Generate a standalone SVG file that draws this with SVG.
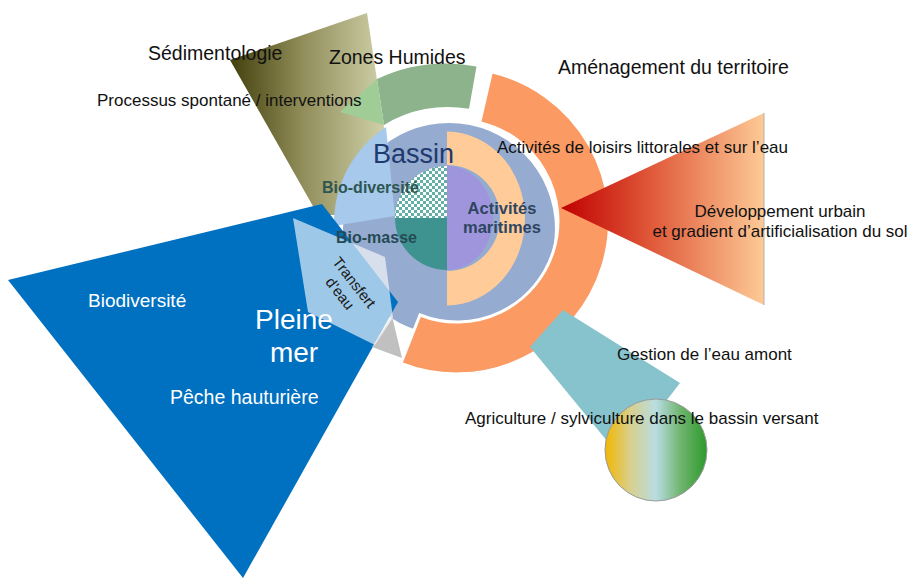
<svg xmlns="http://www.w3.org/2000/svg" width="909" height="579" viewBox="0 0 909 579">
<defs>
<style>
text{font-family:"Liberation Sans",Arial,sans-serif;}
.lbl{font-size:17px;fill:#111;}
.big{font-size:19.5px;fill:#111;}
.wh{fill:#fff;}
.inner{font-weight:bold;font-size:16px;}
</style>
<linearGradient id="olive" gradientUnits="userSpaceOnUse" x1="232" y1="60" x2="385" y2="60">
<stop offset="0" stop-color="#45420f"/>
<stop offset="0.45" stop-color="#8f8c58"/>
<stop offset="1" stop-color="#d0d1aa"/>
</linearGradient>
<linearGradient id="red" gradientUnits="userSpaceOnUse" x1="561" y1="0" x2="764" y2="0">
<stop offset="0" stop-color="#c00000"/>
<stop offset="0.45" stop-color="#e05a3a"/>
<stop offset="1" stop-color="#fdca96"/>
</linearGradient>
<linearGradient id="agri" gradientUnits="userSpaceOnUse" x1="605" y1="0" x2="707" y2="0">
<stop offset="0" stop-color="#f2b600"/>
<stop offset="0.25" stop-color="#d8d08e"/>
<stop offset="0.5" stop-color="#b8dde2"/>
<stop offset="0.75" stop-color="#6db36b"/>
<stop offset="1" stop-color="#2c9a2c"/>
</linearGradient>
<pattern id="check" patternUnits="userSpaceOnUse" width="6" height="6">
<rect width="6" height="6" fill="#ffffff"/>
<rect width="3" height="3" fill="#62b0a6"/>
<rect x="3" y="3" width="3" height="3" fill="#62b0a6"/>
</pattern>
</defs>

<g id="sedimentologie">
<polygon points="230,60 367,13 397,215 318,215" fill="url(#olive)"/>
</g>

<g id="zones-humides">
<path d="M476.5,66.5 A164,164 0 0,0 377,79 L384,125 A121,121 0 0,1 469,108.8 Z" fill="#8db38d"/>
<polygon points="377,79 340,112 384,125" fill="#a0cd96"/>
</g>

<g id="bassin">
<circle cx="449" cy="229" r="106" fill="#95abd0"/>
<path d="M395,216 L386,127 A115,115 0 0,0 334,226 Z" fill="#a6c9ec"/>
<path d="M447,218 L395,218 A52,52 0 0,1 447,166 Z" fill="url(#check)"/>
<path d="M447,218 L447,270 A52,52 0 0,1 395,218 Z" fill="#3e9390"/>
<path d="M447,131.5 A78,87 0 0,1 447,305.5 L447,271 A53,53 0 0,0 447,165 Z" fill="#ffcc99"/>
<path d="M447,166 A46,52 0 0,1 447,270 Z" fill="#9e95dd"/>
</g>

<g id="amenagement">
<path d="M491.4,71.9 A153,153 0 1,1 400.9,363.4 L420,315 A101,101 0 1,0 479.7,122.6 Z" fill="#fb9a62" stroke="#ffffff" stroke-width="3" stroke-linejoin="miter"/>
</g>

<g id="pleine-mer">
<polygon points="8,280 322,204 398,302 243,578" fill="#0070c0"/>
</g>

<g id="transfert">
<polygon points="372,347 392,316 402,358" fill="#c0c0c0"/>
<polygon points="293,218 385,257 393,318 375,345 308,312" fill="#ffffff" fill-opacity="0.62"/>
</g>

<g id="developpement">
<polygon points="561,208 764,113 764,305" fill="url(#red)"/>
<line x1="764" y1="113" x2="764" y2="305" stroke="#b0b0b0" stroke-width="1"/>
</g>

<g id="gestion-eau">
<polygon points="563,310 680,383 650,422 612,447 530,347" fill="#87c3cd"/>
</g>

<g id="agriculture">
<circle cx="656" cy="450" r="51" fill="url(#agri)" stroke="#9a9a9a" stroke-width="1"/>
</g>

<g id="connectors"/>

<g id="labels">
<text class="big" x="148" y="60">Sédimentologie</text>
<text class="big" x="329" y="64">Zones Humides</text>
<text class="lbl" x="97" y="106">Processus spontané / interventions</text>
<text class="big" x="558" y="74">Aménagement du territoire</text>
<text class="lbl" x="497" y="153">Activités de loisirs littorales et sur l’eau</text>
<text class="lbl" x="780" y="217" text-anchor="middle">Développement urbain</text>
<text class="lbl" x="780" y="237" text-anchor="middle">et gradient d’artificialisation du sol</text>
<text class="lbl" x="617" y="360">Gestion de l’eau amont</text>
<text class="lbl" x="465" y="424">Agriculture / sylviculture dans le bassin versant</text>
<text x="373" y="163" style="font-size:27px;fill:#1f3a6e">Bassin</text>
<text class="inner" x="322" y="193" fill="#2e5550">Bio-diversité</text>
<text class="inner" x="336" y="243" fill="#254a55">Bio-masse</text>
<text class="inner" x="502" y="214" text-anchor="middle" fill="#2e4560" style="font-size:16.5px">Activités</text>
<text class="inner" x="502" y="233" text-anchor="middle" fill="#2e4560" style="font-size:16.5px">maritimes</text>
<g transform="translate(347,288) rotate(52)">
<text x="0" y="-4" text-anchor="middle" style="font-size:15px;fill:#1a1a1a">Transfert</text>
<text x="0" y="14" text-anchor="middle" style="font-size:15px;fill:#1a1a1a">d'eau</text>
</g>
<text class="wh" x="88" y="307" style="font-size:19px">Biodiversité</text>
<text class="wh" x="294" y="329" text-anchor="middle" style="font-size:28px">Pleine</text>
<text class="wh" x="294" y="362" text-anchor="middle" style="font-size:28px">mer</text>
<text class="wh" x="170" y="404" style="font-size:19.5px">Pêche hauturière</text>
</g>
</svg>
